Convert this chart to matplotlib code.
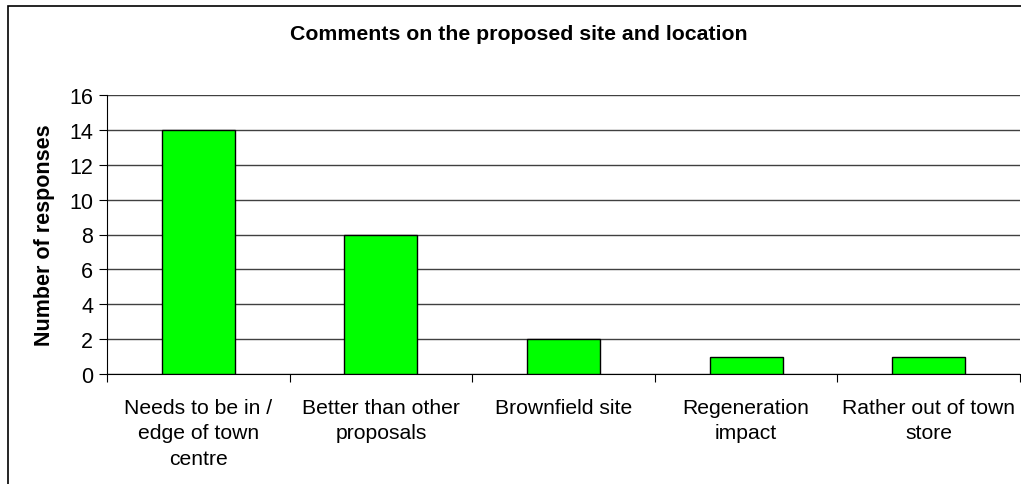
import matplotlib
matplotlib.use("Agg")
import matplotlib.pyplot as plt
from matplotlib.patches import Rectangle

plt.rcParams['font.family'] = ['Liberation Sans', 'DejaVu Sans']

# Data
categories = ["Needs to be in /\nedge of town\ncentre",
              "Better than other\nproposals",
              "Brownfield site",
              "Regeneration\nimpact",
              "Rather out of town\nstore"]
responses = [14, 8, 2, 1, 1]
y_ticks = [0, 2, 4, 6, 8, 10, 12, 14, 16]

fig = plt.figure(figsize=(10.21, 4.85), dpi=100, facecolor='white')

# Outer chart border (left and top visible, rest clipped like the original)
W, H = 1021, 485
frame = Rectangle((8 / W, -0.1), 1.2, (485 - 7) / H + 0.1, transform=fig.transFigure,
                  fill=False, edgecolor='black', linewidth=1.2)
fig.patches.append(frame)

ax = fig.add_axes([107 / W, 1 - 375 / H, (1020 - 107) / W, (375 - 96) / H])

x = list(range(len(categories)))
ax.bar(x, responses, width=0.4, color='#00FF00', edgecolor='black', linewidth=1, zorder=3)

ax.set_xlim(-0.5, len(categories) - 0.5)
ax.set_ylim(0, 16)
ax.set_yticks(y_ticks)
ax.set_yticklabels([str(v) for v in y_ticks], fontsize=15.5)
ax.yaxis.grid(True, color='#404040', linewidth=1, zorder=0)

# category tick marks between groups, labels centred under bars
ax.set_xticks([i - 0.5 for i in range(len(categories) + 1)])
ax.set_xticklabels([])
ax.set_xticks(x, minor=True)
ax.set_xticklabels(categories, minor=True, fontsize=15.2, ha='center', va='top',
                   linespacing=1.45)
ax.tick_params(axis='x', which='major', length=6, direction='out', color='black')
ax.tick_params(axis='x', which='minor', length=0, pad=17)
ax.tick_params(axis='y', length=6, direction='out', pad=4)

for side in ['top', 'right']:
    ax.spines[side].set_visible(False)
ax.spines['left'].set_color('black')
ax.spines['bottom'].set_color('black')

ax.set_ylabel("Number of responses", fontsize=15.5, fontweight='bold', labelpad=10)
fig.text(519 / W, 1 - 35 / H, "Comments on the proposed site and location",
         ha='center', va='center', fontsize=15.3, fontweight='bold')

fig.savefig("out.png", dpi=100, facecolor='white')
